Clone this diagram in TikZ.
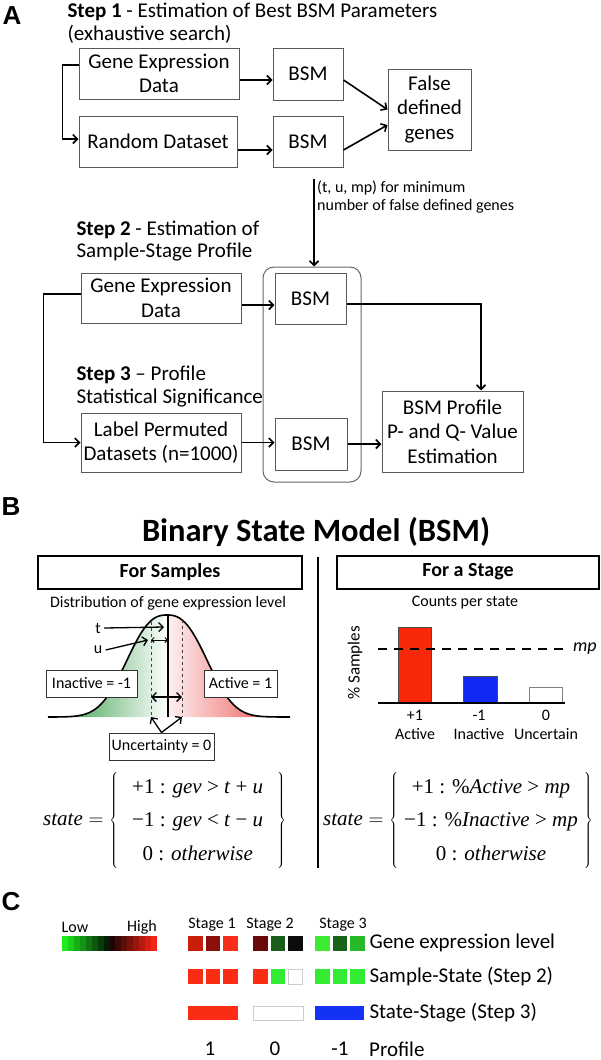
\documentclass[tikz,border=0pt]{standalone}
\usepackage{fontspec}
\setmainfont{Carlito}
\newfontfamily\tmsfont{Liberation Serif}
\newfontfamily\arialfont{Liberation Sans}
\usepackage{xcolor}
\usepackage{tikz}
\usetikzlibrary{shapes,arrows,positioning,calc,arrows.meta}

\newcommand{\fsz}[2]{\fontsize{#1}{#2}\selectfont}

\definecolor{inactgreen}{RGB}{40,150,60}
\definecolor{actred}{RGB}{235,70,70}
\definecolor{barred}{RGB}{250,40,10}
\definecolor{barblue}{RGB}{20,40,245}
\definecolor{lowgreen}{RGB}{30,235,30}
\definecolor{highred}{RGB}{245,35,20}
\definecolor{expa}{RGB}{200,30,10}
\definecolor{expb}{RGB}{140,15,10}
\definecolor{expc}{RGB}{245,45,25}
\definecolor{expd}{RGB}{105,10,10}
\definecolor{expe}{RGB}{25,95,25}
\definecolor{expf}{RGB}{12,12,12}
\definecolor{expg}{RGB}{60,235,50}
\definecolor{exph}{RGB}{25,100,25}
\definecolor{expi}{RGB}{40,185,40}
\definecolor{statered}{RGB}{250,45,20}
\definecolor{stategreen}{RGB}{50,235,50}
\definecolor{stateblue}{RGB}{20,50,245}

\tikzset{
  stepbox/.style={draw=black!65, line width=1pt, align=center, inner sep=0pt, font=\fsz{21}{24.5}},
  steptext/.style={anchor=west, align=left, font=\fsz{21}{22.5}},
  flow/.style={->, line width=1.6pt},
  panellabel/.style={font=\arialfont\bfseries\fsz{26}{26}},
  headbox/.style={draw, line width=2pt, inner sep=0pt, minimum height=33pt, font=\bfseries\fsz{20}{24}},
  statebox/.style={draw=black!80, line width=1pt, fill=white, inner sep=0pt, minimum height=27pt, font=\fsz{16}{18}},
  small/.style={font=\fsz{16}{19}, align=center},
  rowlabel/.style={anchor=west, font=\fsz{21}{24}},
}

\begin{document}
\begin{tikzpicture}[x=1pt, y=-1pt, >={Straight Barb[length=4.5pt, width=9pt]}]
    \useasboundingbox (0,0) rectangle (600,1060);

    % A: parameter search, sample-stage profile, significance
    \node[panellabel] (lblA) at (12,16) {A};
    \node[steptext] (step1) at (64,23) {\textbf{Step 1} - Estimation of Best BSM Parameters\\(exhaustive search)};
    \node[stepbox, minimum width=160pt, minimum height=51pt] (ged1) at (159,73.5) {Gene Expression\\Data};
    \node[stepbox, minimum width=158pt, minimum height=51pt] (rnd) at (158,141.5) {Random Dataset};
    \node[stepbox, minimum width=70pt, minimum height=52pt] (bsm1) at (308,74) {BSM};
    \node[stepbox, minimum width=70pt, minimum height=51pt] (bsm2) at (308,141.5) {BSM};
    \node[stepbox, minimum width=83pt, minimum height=81pt] (false) at (429.5,109.5) {False\\defined\\genes};

    \draw[flow] ([yshift=-6.5pt]ged1.east) -- ([yshift=-6.5pt]ged1.east -| bsm1.west);
    \draw[flow] ([yshift=-8.5pt]rnd.east) -- ([yshift=-8.5pt]rnd.east -| bsm2.west);
    \draw[flow] ([yshift=-6pt]bsm1.east) -- (false.west);
    \draw[flow] ([yshift=-8.5pt]bsm2.east) -- ([yshift=-15.5pt]false.west);
    \draw[flow] ([yshift=8.5pt]ged1.west) -- ++(-16,0) |- ([yshift=2.5pt]rnd.west);

    \node[steptext] (step2) at (73,241) {\textbf{Step 2} - Estimation of\\Sample-Stage Profile};
    \node[steptext] (step3) at (73,386.5) {\textbf{Step 3} -- Profile\\Statistical Significance};
    \node[stepbox, minimum width=160pt, minimum height=50pt] (ged2) at (161,298) {Gene Expression\\Data};
    \node[stepbox, minimum width=160pt, minimum height=59pt] (lpd) at (161,442.5) {Label Permuted\\Datasets (n=1000)};
    \node[draw=black!60, line width=1pt, rounded corners=11pt, minimum width=98pt, minimum height=215pt] (grp) at (312,374.5) {};
    \node[stepbox, minimum width=71pt, minimum height=51pt] (bsm3) at (310.5,298.5) {BSM};
    \node[stepbox, minimum width=72pt, minimum height=52pt] (bsm4) at (311,444) {BSM};
    \node[stepbox, minimum width=141pt, minimum height=81pt] (prof) at (452.5,431.5) {BSM Profile\\P- and Q- Value\\Estimation};

    \coordinate (tumtop) at (314,179);
    \draw[flow] (tumtop) -- (tumtop |- grp.north);
    \node[anchor=north west, align=left, inner sep=0pt, font=\fsz{16}{18}] (tumlbl) at (317,181) {(t, u, mp) for minimum\\number of false defined genes};

    \draw[flow] ([yshift=-7pt]ged2.east) -- ([yshift=-7pt]ged2.east -| bsm3.west);
    \draw[flow] (lpd.east) -- (lpd.east -| bsm4.west);
    \draw[flow] ([yshift=4pt]ged2.west) -- ++(-37,0) |- (lpd.west);
    \draw[flow] ([yshift=-5.5pt]bsm3.east) -| ([xshift=28.5pt]prof.north);
    \draw[flow] (bsm4.east) -- (bsm4.east -| prof.west);

    % B: binary state model
    \node[panellabel] (lblB) at (11,507) {B};
    \node[font=\bfseries\fsz{32.5}{38}] (title) at (316,532) {Binary State Model (BSM)};
    \node[headbox, minimum width=264pt] (hsmp) at (170,572) {For Samples};
    \node[headbox, minimum width=262pt] (hstg) at (468,572) {For a Stage};
    \coordinate (divtop) at (318,557);
    \coordinate (divbot) at (318,868);
    \draw[line width=1.6pt] (divtop) -- (divbot);

    % distribution of expression, split at t
    \node[small] (distlbl) at (168,603) {Distribution of gene expression level};
    \begin{scope}
      \clip plot[domain=48:290, samples=100] (\x, {717-102*exp(-1*pow((abs(\x-167)+0.01)/49.5,2.53))}) -- cycle;
      \shade[left color=inactgreen, right color=white] (48,600) rectangle (168,718);
      \shade[left color=actred!8, right color=actred] (168,600) rectangle (290,718);
    \end{scope}
    \draw[line width=1.6pt] plot[domain=48:290, samples=100] (\x, {717-102*exp(-1*pow((abs(\x-167)+0.01)/49.5,2.53))});
    \coordinate (ttop) at (168,615);
    \coordinate (tbot) at (168,717);
    \coordinate (ltop) at (151,622);
    \coordinate (lbot) at (151,717);
    \coordinate (rtop) at (182,620);
    \coordinate (rbot) at (182,717);
    \draw[line width=1.4pt] (ttop) -- (tbot);
    \draw[black!75, dashed, line width=1pt] (ltop) -- (lbot);
    \draw[black!75, dashed, line width=1pt] (rtop) -- (rbot);

    \node[small] (tlbl) at (98,628) {t};
    \node[small] (ulbl) at (98,650) {u};
    \draw[->, line width=1.3pt] (tlbl.east) -- ([xshift=-4pt, yshift=-12pt]ttop);
    \draw[->, line width=1.3pt] (ulbl.east) -- ([xshift=-3pt, yshift=-18pt]ltop);
    \draw[<->, line width=1pt, >={Straight Barb[length=2.5pt, width=5pt]}] ([yshift=-18pt]ltop) -- ([yshift=-25pt]ttop);
    \draw[<->, line width=1.3pt] ([yshift=-75pt]ltop) -- ([yshift=-77pt]rtop);

    \node[statebox, minimum width=91pt] (inact) at (91.5,683.5) {Inactive = -1};
    \node[statebox, minimum width=73pt] (act) at (240.5,683.5) {Active = 1};
    \node[statebox, minimum width=105pt] (unc) at (161.5,746.5) {Uncertainty = 0};
    \draw[->, line width=1.3pt] (unc.north) -- (lbot);
    \draw[->, line width=1.3pt] (unc.north) -- (rbot);

    \node[anchor=west, inner sep=0pt, font=\tmsfont\fsz{21}{24}] (sform) at (43,820)
      {\renewcommand{\arraystretch}{1.4}$\textit{state} = \left\{\begin{tabular}{@{\hspace{14pt}}c@{\hspace{14pt}}}
        +1 : \textit{gev} > \textit{t} + \textit{u}\\
        −1 : \textit{gev} < \textit{t} − \textit{u}\\
        0 : \textit{otherwise}
      \end{tabular}\right\}$};

    % counts per state
    \node[small] (cntlbl) at (465,603) {Counts per state};
    \node[small, rotate=90, font=\fsz{17}{20}] (ylbl) at (355,663) {\% Samples};
    \draw[black!70, line width=0.8pt, fill=barred] (398,703) rectangle (431,627);
    \draw[black!70, line width=0.8pt, fill=barblue] (463,703) rectangle (497,676);
    \draw[black!50, line width=0.8pt, fill=white] (529,703) rectangle (562,687);
    \draw[line width=1.6pt] (378,703) -- (565,703);
    \node[anchor=west, inner sep=0pt, font=\itshape\fsz{18}{20}] (mplbl) at (573,649) {mp};
    \coordinate (mpstart) at (378,649);
    \draw[dash pattern=on 9pt off 7pt, line width=1.8pt] (mpstart) -- ([xshift=-5pt]mplbl.west);
    \node[small] (bpos) at (415,725) {+1\\Active};
    \node[small] (bneg) at (479,725) {-1\\Inactive};
    \node[small] (bzero) at (546,725) {0\\Uncertain};

    \node[anchor=west, inner sep=0pt, font=\tmsfont\fsz{21}{24}] (tform) at (323,820)
      {\renewcommand{\arraystretch}{1.4}$\textit{state} = \left\{\begin{tabular}{@{\hspace{6pt}}c@{\hspace{6pt}}}
        +1 : \%\textit{Active} > \textit{mp}\\
        −1 : \%\textit{Inactive} > \textit{mp}\\
        0 : \textit{otherwise}
      \end{tabular}\right\}$};

    % C: example profile
    \node[panellabel] (lblC) at (11,902) {C};
    \node[small] (lowlbl) at (75,927) {Low};
    \node[small] (highlbl) at (142,927) {High};
    \foreach \i in {0,...,7} {
      \pgfmathsetmacro{\shadepc}{100-12.5*\i}
      \fill[lowgreen!\shadepc!black] ({62+5.94*\i},936) rectangle ++(6,15);
    }
    \foreach \i in {0,...,7} {
      \pgfmathsetmacro{\shadepc}{12.5*(\i+1)}
      \fill[highred!\shadepc!black] ({109.5+5.94*\i},936) rectangle ++(6,15);
    }
    \node[small] (stg1) at (212,925) {Stage 1};
    \node[small] (stg2) at (270,925) {Stage 2};
    \node[small] (stg3) at (343,925) {Stage 3};

    \foreach \cx/\cc in {188/expa, 205.5/expb, 223/expc, 253/expd, 270.5/expe, 288/expf, 315/expg, 332.5/exph, 350/expi}
      \fill[\cc] (\cx,936) rectangle ++(14.5,15);
    \foreach \cx/\cc in {188/statered, 205.5/statered, 223/statered, 253/statered, 270.5/stategreen, 315/stategreen, 332.5/stategreen, 350/stategreen}
      \fill[\cc] (\cx,969) rectangle ++(14.5,15);
    \draw[black!20, fill=white] (288,969) rectangle ++(14.5,15);
    \fill[statered] (188,1006) rectangle (238,1020);
    \draw[black!20, fill=white] (253,1006) rectangle (303,1020);
    \fill[stateblue] (315,1006) rectangle (364,1020);

    \node[rowlabel] (rgene) at (366,943) {Gene expression level};
    \node[rowlabel] (rsamp) at (366,976) {Sample-State (Step 2)};
    \node[rowlabel] (rstag) at (366,1013) {State-Stage (Step 3)};
    \node[rowlabel, inner sep=0pt] (rprof) at (369,1049) {Profile};
    \node[font=\fsz{21}{24}, inner sep=0pt] (pone) at (210,1049) {1};
    \node[font=\fsz{21}{24}, inner sep=0pt] (pzero) at (275,1049) {0};
    \node[font=\fsz{21}{24}, inner sep=0pt] (pmone) at (340,1049) {-1};
\end{tikzpicture}
\end{document}
